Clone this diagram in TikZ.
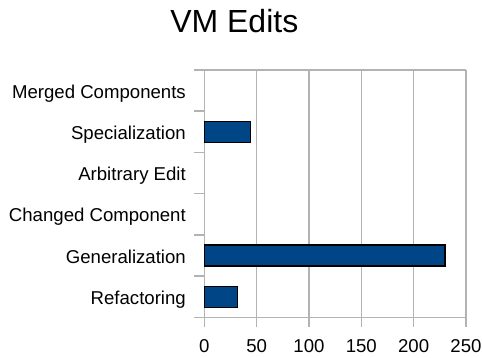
\documentclass[tikz,border=0pt]{standalone}
\usepackage{fontspec}
\setmainfont{Liberation Sans}
\definecolor{barblue}{HTML}{004586}
\definecolor{gridgray}{HTML}{B3B3B3}
\begin{document}
\begin{tikzpicture}[x=1bp,y=-1bp,
  gridline/.style={draw=gridgray,line width=1.5bp},
  barbox/.style={draw=black,line width=1.3bp,fill=barblue},
  catlabel/.style={anchor=base east,inner sep=0pt,font=\fontsize{18.6bp}{22bp}\selectfont},
  ticklabel/.style={anchor=base,inner sep=0pt,font=\fontsize{18.6bp}{22bp}\selectfont},
  titlelabel/.style={anchor=base,inner sep=0pt,font=\fontsize{32bp}{38bp}\selectfont}]
\useasboundingbox (0,0) rectangle (482,357);
\def\xz{204.3}
\def\sc{1.0468}
\def\ytop{70}
\def\ybot{317.3}
\def\rh{41.22}
% vertical grid lines and ticks
\foreach \v in {0,50,...,250}{
  \coordinate (gt\v) at ({\xz+\v*\sc},\ytop);
  \coordinate (gb\v) at ({\xz+\v*\sc},327);
  \draw[gridline] (gt\v) -- (gb\v);
  \node[ticklabel] (tl\v) at ({\xz+\v*\sc},352) {\v};
}
% horizontal lines and category ticks
\foreach \i in {0,...,6}{
  \coordinate (hl\i) at (194,{\ytop+\i*\rh});
  \coordinate (hr\i) at (\xz,{\ytop+\i*\rh});
  \draw[gridline] (hl\i) -- (hr\i);
}
\coordinate (topl) at (194,\ytop);
\coordinate (topr) at ({\xz+250*\sc},\ytop);
\draw[gridline] (topl) -- (topr);
\coordinate (botl) at (194,\ybot);
\coordinate (botr) at ({\xz+250*\sc},\ybot);
\draw[gridline] (botl) -- (botr);
% bars
\draw[barbox] (\xz,{\ytop+1.5*\rh-10.5}) rectangle ({\xz+44*\sc},{\ytop+1.5*\rh+10.5});
\draw[barbox] (\xz,{\ytop+4.5*\rh-10.5}) rectangle ({\xz+230*\sc},{\ytop+4.5*\rh+10.5});
\draw[barbox] (\xz,{\ytop+5.5*\rh-10.5}) rectangle ({\xz+32*\sc},{\ytop+5.5*\rh+10.5});
% category labels
\node[catlabel] (c1) at (186,{\ytop+0.5*\rh+7.6}) {Merged Components};
\node[catlabel] (c2) at (186,{\ytop+1.5*\rh+7.6}) {Specialization};
\node[catlabel] (c3) at (186,{\ytop+2.5*\rh+7.6}) {Arbitrary Edit};
\node[catlabel] (c4) at (186,{\ytop+3.5*\rh+7.6}) {Changed Component};
\node[catlabel] (c5) at (186,{\ytop+4.5*\rh+7.6}) {Generalization};
\node[catlabel] (c6) at (186,{\ytop+5.5*\rh+7.6}) {Refactoring};
% title
\node[titlelabel] (title) at (234.3,32.3) {VM Edits};
\end{tikzpicture}
\end{document}
